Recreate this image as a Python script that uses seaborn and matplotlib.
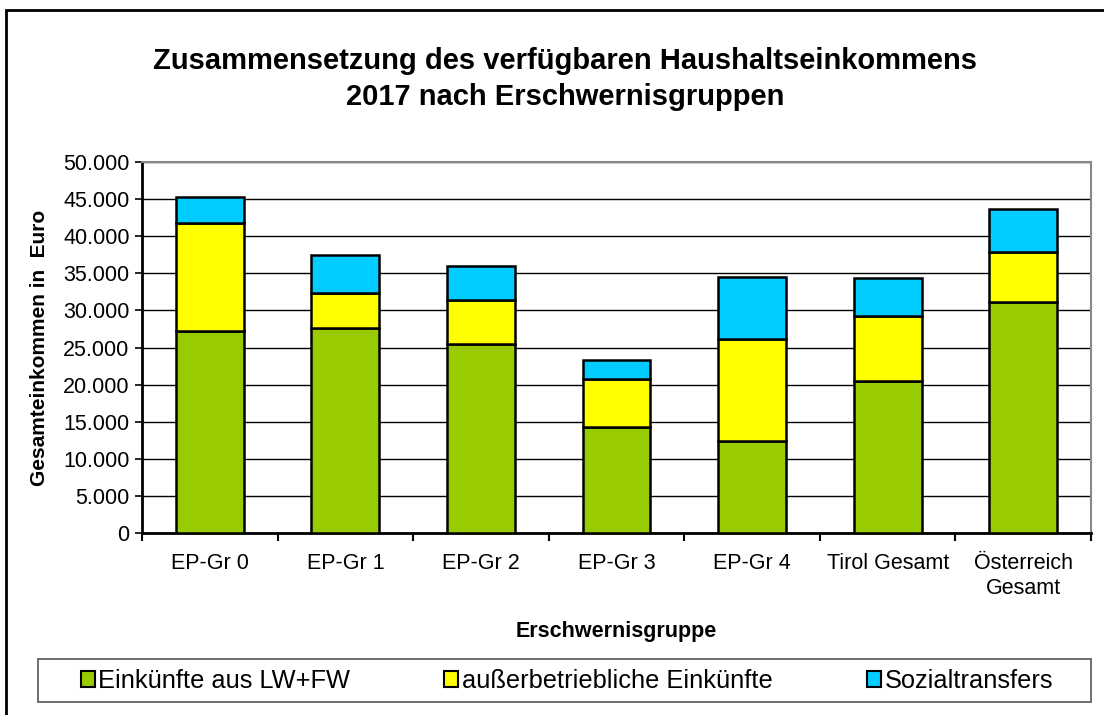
import pandas as pd
import numpy as np
import matplotlib.pyplot as plt
import seaborn as sns
from matplotlib.patches import Patch, Rectangle
from matplotlib.ticker import FuncFormatter, FixedLocator

# Daten
gruppen = ['EP-Gr 0', 'EP-Gr 1', 'EP-Gr 2', 'EP-Gr 3', 'EP-Gr 4', 'Tirol Gesamt', 'Österreich\nGesamt']
lw_fw = [27200, 27600, 25500, 14300, 12400, 20500, 31100]
ausserbetrieblich = [14500, 4700, 5950, 6500, 13800, 8800, 6750]
sozialtransfers = [3600, 5200, 4500, 2500, 8300, 5100, 5750]

serien = ['Einkünfte aus LW+FW', 'außerbetriebliche Einkünfte', 'Sozialtransfers']
farben = ['#99CC00', '#FFFF00', '#00CCFF']

df = pd.DataFrame({'Gruppe': gruppen, 'lw': lw_fw, 'ab': ausserbetrieblich, 'soz': sozialtransfers})

sns.set_style('white')
plt.rcParams['font.family'] = ['Liberation Sans', 'DejaVu Sans']
plt.rcParams['text.color'] = 'black'
plt.rcParams['axes.labelcolor'] = 'black'
plt.rcParams['xtick.color'] = 'black'
plt.rcParams['ytick.color'] = 'black'

fig = plt.figure(figsize=(11.04, 7.15), dpi=100)
ax = fig.add_axes([142 / 1104, 1 - 533.3 / 715, (1091 - 142) / 1104, (533.3 - 161.7) / 715])

# gestapelte Balken: von unten nach oben
unten = np.zeros(len(df))
for spalte, farbe in zip(['lw', 'ab', 'soz'], farben):
    sns.barplot(x='Gruppe', y=spalte, data=df, color=farbe, bottom=unten, width=0.5,
                edgecolor='black', linewidth=1.8, saturation=1, ax=ax, zorder=3)
    unten = unten + df[spalte].values

ax.set_ylim(0, 50000)
ax.set_xlim(-0.5, len(gruppen) - 0.5)
ax.set_yticks(np.arange(0, 50001, 5000))
ax.yaxis.set_major_formatter(FuncFormatter(lambda v, p: f'{v:,.0f}'.replace(',', '.')))
ax.grid(axis='y', color='black', linewidth=1, zorder=0)
ax.set_axisbelow(True)

ax.tick_params(axis='y', which='major', length=5, width=1.2, color='black', labelsize=15.5, pad=4, left=True)
ax.tick_params(axis='x', which='major', length=0, labelsize=15.5, pad=14)
ax.xaxis.set_minor_locator(FixedLocator(np.arange(-0.5, len(gruppen), 1.0)))
ax.tick_params(axis='x', which='minor', length=6, width=1.5, color='black', bottom=True)
for lbl in ax.get_xticklabels():
    lbl.set_linespacing(1.25)

for s in ['left', 'bottom']:
    ax.spines[s].set_color('black')
    ax.spines[s].set_linewidth(2)
for s in ['top', 'right']:
    ax.spines[s].set_color('#888888')
    ax.spines[s].set_linewidth(1.5)

ax.set_xlabel('Erschwernisgruppe', fontsize=15.5, fontweight='bold', labelpad=16)
ax.set_ylabel('Gesamteinkommen in  Euro', fontsize=15, fontweight='bold', labelpad=10)

fig.text(565 / 1104, 1 - 79 / 715, 'Zusammensetzung des verfügbaren Haushaltseinkommens\n2017 nach Erschwernisgruppen',
         ha='center', va='center', fontsize=21, fontweight='bold', linespacing=1.4)

# Legende mit eigenem Rahmen
fig.patches.append(Rectangle((38 / 1104, 1 - 702 / 715), (1091 - 38) / 1104, 43 / 715,
                             transform=fig.transFigure, fill=False, edgecolor='#555555', linewidth=1.2))
handles = [Patch(facecolor=f, edgecolor='black', linewidth=1.5) for f in farben]
fig.legend(handles, serien, loc='center', ncol=3, bbox_to_anchor=(567 / 1104, 1 - 681 / 715),
           fontsize=18.3, frameon=False, handlelength=0.55, handleheight=0.55,
           handletextpad=0.15, columnspacing=3.7)

# äußerer Rahmen
fig.patches.append(Rectangle((6 / 1104, -0.05), 1.2, 1 - 10 / 715 + 0.05, transform=fig.transFigure,
                             fill=False, edgecolor='black', linewidth=2))

fig.savefig('out.png', dpi=100)
